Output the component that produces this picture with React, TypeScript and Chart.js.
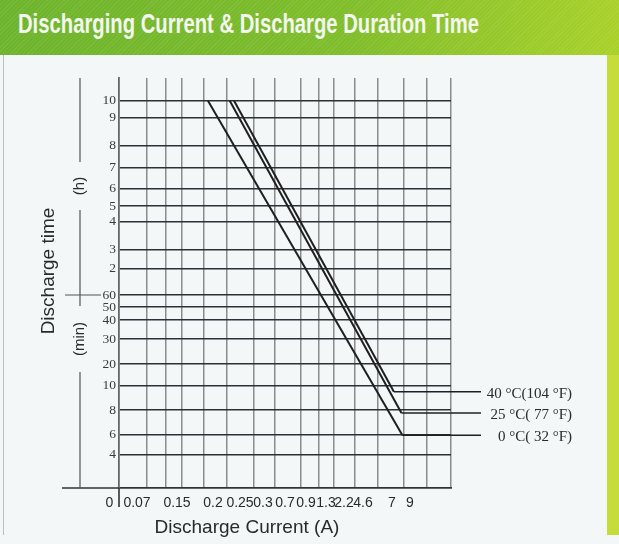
import React, { useEffect, useRef } from 'react';
import { Chart, LinearScale, registerables } from 'chart.js';

Chart.register(...registerables);

// ---------------- data ----------------
const TITLE = 'Discharging Current & Discharge Duration Time';
const X_TITLE = 'Discharge Current (A)';
const Y_TITLE = 'Discharge time';
const Y_UNIT_HOURS = '(h)';
const Y_UNIT_MINUTES = '(min)';

// current (A) tick values / labels
const currentTickValues = [0, 0.07, 0.15, 0.2, 0.25, 0.3, 0.7, 0.9, 1.3, 2.2, 4.6, 7, 9];
const currentTickLabels = ['0     ', '0.07', '0.15', '0.2', '0.25', '0.3', '0.7', '0.9', '1.3', '2.2', '4.6', '7', '9'];

// time ticks, expressed in minutes (upper part labelled in hours)
const timeTickValues = [4, 6, 8, 10, 20, 30, 40, 50, 60, 120, 180, 240, 300, 360, 420, 480, 540, 600];
const timeTickLabels = ['4', '6', '8', '10', '20', '30', '40', '50', '60', '2', '3', '4', '5', '6', '7', '8', '9', '10'];

const seriesNames = ['40 °C(104 °F)', '25 °C( 77 °F)', '0 °C( 32 °F)'];
const current40C = [0.239, 7.21];
const time40C = [600, 9.5];
const current25C = [0.231, 8.05];
const time25C = [600, 7.75];
const current0C = [0.193, 8.16];
const time0C = [600, 5.9];

// ---------------- layout / style ----------------
const W = 619;
const H = 544;
const PLOT = { left: 119, right: 451, top: 78, bottom: 488 };
const Y_AXIS_W = 40;
const X_AXIS_H = 30;
// the printed axes are non-uniform: value -> pixel breakpoints of the original artwork
const X_BREAK_VALUES = [0, 0.07, 0.15, 0.2, 0.25, 0.3, 0.7, 0.9, 1.3, 2.2, 4.6, 7, 9, 10];
const X_BREAK_PX = [119, 137, 177, 213, 240, 263, 285, 306, 326, 344, 363, 392, 410, 451];
const Y_BREAK_VALUES = [0, 4, 6, 8, 10, 20, 30, 40, 50, 60, 120, 180, 240, 300, 360, 420, 480, 540, 600, 660];
const Y_BREAK_PX = [488, 454.3, 434.3, 410, 385.7, 364, 339, 320, 307, 295, 268.3, 249.3, 221.7, 206, 188.3, 167.3, 145.7, 117.7, 100.7, 78];
const X_GRID_PX = [147, 166, 182, 204, 227, 254, 275, 301, 319, 334, 355, 378, 404, 427, 451];

const LINE_COLOR = '#1f1f22';
const H_GRID_COLOR = '#2c3038';
const V_GRID_COLOR = '#8a8c8e';
const TEXT_COLOR = '#2a2a2a';
const SANS = '"Liberation Sans", Arial, sans-serif';
const SERIF = '"Liberation Serif", "Times New Roman", serif';

const xFracs = X_BREAK_PX.map((p) => (p - PLOT.left) / (PLOT.right - PLOT.left));
const yFracs = Y_BREAK_PX.map((p) => (PLOT.bottom - p) / (PLOT.bottom - PLOT.top));
const xGridFracs = X_GRID_PX.map((p) => (p - PLOT.left) / (PLOT.right - PLOT.left));

function interp(v: number, xs: number[], ys: number[]): number {
  const n = xs.length;
  if (v <= xs[0]) {
    return ys[0] + ((v - xs[0]) * (ys[1] - ys[0])) / (xs[1] - xs[0]);
  }
  for (let i = 1; i < n; i++) {
    if (v <= xs[i]) {
      return ys[i - 1] + ((v - xs[i - 1]) * (ys[i] - ys[i - 1])) / (xs[i] - xs[i - 1]);
    }
  }
  return ys[n - 1] + ((v - xs[n - 1]) * (ys[n - 1] - ys[n - 2])) / (xs[n - 1] - xs[n - 2]);
}

function makePiecewise(id: string, vals: number[], fracs: number[], tickVals: number[]) {
  return class extends LinearScale {
    static id = id;
    static defaults = LinearScale.defaults;
    determineDataLimits() {
      (this as any).min = vals[0];
      (this as any).max = vals[vals.length - 1];
    }
    buildTicks() {
      return tickVals.map((v) => ({ value: v }));
    }
    getPixelForValue(v: number) {
      return (this as any).getPixelForDecimal(interp(v, vals, fracs));
    }
    getValueForPixel(p: number) {
      return interp((this as any).getDecimalForPixel(p), fracs, vals);
    }
  };
}

const CurrentScale = makePiecewise('currentPiecewise', X_BREAK_VALUES, xFracs, currentTickValues);
const TimeScale = makePiecewise('timePiecewise', Y_BREAK_VALUES, yFracs, timeTickValues);
Chart.register(CurrentScale as any, TimeScale as any);

const decorPlugin = {
  id: 'decor',
  afterDatasetsDraw(chart: any) {
    const { ctx } = chart;
    ctx.save();
    // leader lines + series labels
    ctx.strokeStyle = LINE_COLOR;
    ctx.lineWidth = 1.6;
    ctx.fillStyle = TEXT_COLOR;
    ctx.font = `15px ${SERIF}`;
    ctx.textAlign = 'right';
    ctx.textBaseline = 'middle';
    chart.data.datasets.forEach((ds: any, i: number) => {
      const pts = chart.getDatasetMeta(i).data;
      const p = pts[pts.length - 1];
      ctx.beginPath();
      ctx.moveTo(p.x, p.y);
      ctx.lineTo(481, p.y);
      ctx.stroke();
      ctx.fillText(ds.label, 572, p.y + 2);
    });

    // axis extensions
    ctx.strokeStyle = '#333';
    ctx.lineWidth = 1.6;
    ctx.beginPath();
    ctx.moveTo(62, PLOT.bottom);
    ctx.lineTo(PLOT.left, PLOT.bottom);
    ctx.moveTo(PLOT.left, PLOT.bottom);
    ctx.lineTo(PLOT.left, 507);
    ctx.stroke();

    // hour / minute brackets
    const bx = 80;
    ctx.strokeStyle = '#555';
    ctx.lineWidth = 1.2;
    ctx.beginPath();
    ctx.moveTo(bx, 78);
    ctx.lineTo(bx, 162);
    ctx.moveTo(bx, 210);
    ctx.lineTo(bx, 306);
    ctx.moveTo(65, 295);
    ctx.lineTo(101, 295);
    ctx.moveTo(bx, 372);
    ctx.lineTo(bx, 488);
    ctx.stroke();

    ctx.fillStyle = TEXT_COLOR;
    ctx.textAlign = 'center';
    ctx.textBaseline = 'middle';
    ctx.font = `15px ${SANS}`;
    ctx.save();
    ctx.translate(bx, 186);
    ctx.rotate(-Math.PI / 2);
    ctx.fillText(Y_UNIT_HOURS, 0, 0);
    ctx.restore();
    ctx.save();
    ctx.translate(bx, 339);
    ctx.rotate(-Math.PI / 2);
    ctx.fillText(Y_UNIT_MINUTES, 0, 0);
    ctx.restore();

    // axis titles
    ctx.font = `19px ${SANS}`;
    ctx.textBaseline = 'alphabetic';
    ctx.save();
    ctx.translate(53.5, 271);
    ctx.rotate(-Math.PI / 2);
    ctx.fillText(Y_TITLE, 0, 0);
    ctx.restore();
    ctx.fillText(X_TITLE, 247, 533);
    ctx.restore();
  },
};

export default function App() {
  const ref = useRef<HTMLCanvasElement>(null);
  useEffect(() => {
    if (!ref.current) return;
    const mk = (xs: number[], ys: number[]) => xs.map((x, i) => ({ x, y: ys[i] }));
    const ds = (label: string, xs: number[], ys: number[]) => ({
      label,
      data: mk(xs, ys),
      borderColor: LINE_COLOR,
      borderWidth: 2,
      pointRadius: 0,
      fill: false,
      tension: 0,
      xAxisID: 'x',
      yAxisID: 'y',
    });
    const chart = new Chart(ref.current, {
      type: 'line',
      data: {
        datasets: [
          ds(seriesNames[0], current40C, time40C),
          ds(seriesNames[1], current25C, time25C),
          ds(seriesNames[2], current0C, time0C),
        ],
      },
      options: {
        responsive: false,
        animation: false,
        devicePixelRatio: 1,
        layout: {
          padding: {
            left: PLOT.left - Y_AXIS_W,
            top: PLOT.top,
            right: W - PLOT.right,
            bottom: H - PLOT.bottom - X_AXIS_H,
          },
        },
        plugins: { legend: { display: false }, tooltip: { enabled: false } },
        scales: {
          xgrid: {
            type: 'linear',
            position: 'bottom',
            min: 0,
            max: 1,
            afterBuildTicks: (s: any) => {
              s.ticks = xGridFracs.map((v) => ({ value: v }));
            },
            afterFit: (s: any) => {
              s.height = 0;
            },
            ticks: { display: false },
            grid: { display: true, color: V_GRID_COLOR, lineWidth: 1.5, drawTicks: false },
            border: { display: false },
          },
          x: {
            type: 'currentPiecewise' as any,
            position: 'bottom',
            afterFit: (s: any) => {
              s.height = X_AXIS_H;
            },
            grid: { display: false, drawTicks: false },
            border: { display: true, color: '#333', width: 1.8 },
            ticks: {
              autoSkip: false,
              maxRotation: 0,
              minRotation: 0,
              padding: 7,
              color: TEXT_COLOR,
              font: { family: SANS, size: 14 },
              callback: (v: any) => {
                const i = currentTickValues.indexOf(Number(v));
                return i >= 0 ? currentTickLabels[i] : '';
              },
            },
          },
          y: {
            type: 'timePiecewise' as any,
            position: 'left',
            afterFit: (s: any) => {
              s.width = Y_AXIS_W;
            },
            grid: { display: true, color: H_GRID_COLOR, lineWidth: 1.6, drawTicks: false },
            border: { display: true, color: '#666', width: 1.8 },
            ticks: {
              autoSkip: false,
              padding: 3,
              color: '#3a3a3a',
              font: { family: SERIF, size: 13.5 },
              callback: (v: any) => {
                const i = timeTickValues.indexOf(Number(v));
                return i >= 0 ? timeTickLabels[i] : '';
              },
            },
          },
        } as any,
      },
      plugins: [decorPlugin],
    });
    return () => chart.destroy();
  }, []);

  return (
    <div
      style={{
        position: 'absolute',
        left: 0,
        top: 0,
        width: W,
        height: H,
        overflow: 'hidden',
        background: '#f3f7f7',
      }}
    >
      <div
        style={{
          position: 'absolute',
          left: 0,
          top: 0,
          width: W,
          height: 55,
          background:
            'repeating-linear-gradient(135deg, rgba(255,255,255,0.07) 0px, rgba(255,255,255,0.07) 1px, rgba(0,0,0,0) 1px, rgba(0,0,0,0) 3px), linear-gradient(90deg, #6db42c 0%, #7fbd2b 55%, #a9d12a 100%)',
        }}
      >
        <div
          style={{
            position: 'absolute',
            left: 18,
            top: 10.5,
            fontFamily: SANS,
            fontWeight: 'bold',
            fontSize: 27,
            lineHeight: '27px',
            color: '#f4f6f0',
            whiteSpace: 'nowrap',
            transform: 'scaleX(0.75)',
            transformOrigin: 'left top',
          }}
        >
          {TITLE}
        </div>
      </div>
      <div
        style={{
          position: 'absolute',
          left: 607,
          top: 55,
          width: 12,
          height: 480,
          background: '#c6dc3a',
        }}
      />
      <div
        style={{ position: 'absolute', left: 3, top: 55, width: 1, height: 480, background: '#b9c0c2' }}
      />
      <canvas ref={ref} width={W} height={H} style={{ position: 'absolute', left: 0, top: 0 }} />
    </div>
  );
}
